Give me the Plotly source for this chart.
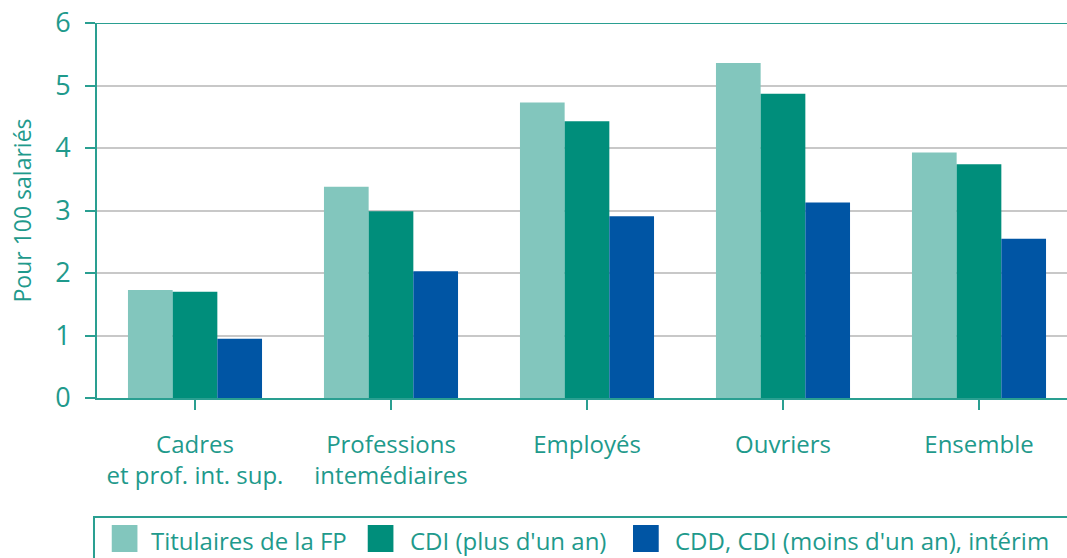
import plotly.graph_objects as go

categories = ["Cadres<br>et prof. int. sup.", "Professions<br>intemédiaires", "Employés", "Ouvriers", "Ensemble"]
series_names = ["Titulaires de la FP", "CDI (plus d'un an)", "CDD, CDI (moins d'un an), intérim"]
titulaires = [1.73, 3.38, 4.73, 5.36, 3.93]
cdi_long = [1.70, 2.99, 4.43, 4.87, 3.74]
cdd_court = [0.95, 2.03, 2.91, 3.13, 2.55]
series_values = [titulaires, cdi_long, cdd_court]
y_ticks = [0, 1, 2, 3, 4, 5, 6]

colors = ["#82C6BD", "#008E7B", "#0055A4"]
teal = "#2A9F91"
text_teal = "#1F9A8C"
font_family = "Open Sans, Noto Sans, DejaVu Sans, sans-serif"

fig = go.Figure()
for name, vals, col in zip(series_names, series_values, colors):
    fig.add_trace(go.Bar(x=list(range(len(categories))), y=vals, name=name,
                         marker=dict(color=col, line=dict(width=0)),
                         showlegend=False))

# body margin removed in the page (post_script), plot area at x 97..1067, y 23..398
fig.update_layout(
    width=1067, height=558,
    margin=dict(l=97, r=0, t=23, b=160, autoexpand=False),
    barmode="group", bargap=0.316, bargroupgap=0,
    plot_bgcolor="white", paper_bgcolor="white",
    font=dict(family=font_family, color=text_teal, size=24),
)

fig.update_xaxes(
    range=[-0.5, 4.449], automargin=False,
    tickmode="array", tickvals=list(range(len(categories))), ticktext=categories,
    showline=True, linecolor=teal, linewidth=2,
    ticks="outside", ticklen=10, tickcolor=teal, tickwidth=2,
    tickson="boundaries", ticklabelstandoff=14,
    showgrid=False, zeroline=False,
    tickfont=dict(size=24, color=text_teal, family=font_family),
)

fig.update_yaxes(
    range=[0, 6], tickvals=y_ticks, automargin=False,
    showline=True, linecolor=teal, linewidth=2,
    ticks="outside", ticklen=10, tickcolor=teal, tickwidth=2,
    showgrid=True, gridcolor="#C8C8C8", gridwidth=1.5, zeroline=False,
    tickfont=dict(size=27, color=text_teal, family=font_family),
    ticklabelstandoff=9, ticklabeloverflow="allow",
    title=dict(text="Pour 100 salariés", standoff=17,
               font=dict(size=23, color=text_teal, family=font_family)),
)

# top teal line at y = 6
fig.add_shape(type="line", xref="paper", yref="y", x0=0, x1=1, y0=6, y1=6,
              line=dict(color=teal, width=2))

# legend box drawn manually
fig.add_shape(type="rect", xref="paper", yref="paper", x0=-0.0031, x1=1.05,
              y0=-0.3173, y1=-0.56, line=dict(color=teal, width=2), fillcolor="rgba(0,0,0,0)")
sq_x0 = [0.0152, 0.2791, 0.5526]
text_x = [0.0536, 0.3206, 0.5938]
for name, col, x0, tx in zip(series_names, colors, sq_x0, text_x):
    fig.add_shape(type="rect", xref="paper", yref="paper", x0=x0, x1=x0 + 0.0265,
                  y0=-0.3387, y1=-0.4107, line=dict(width=0), fillcolor=col)
    fig.add_annotation(xref="paper", yref="paper", x=tx, y=-0.3787, text=name,
                       showarrow=False, xanchor="left", yanchor="middle",
                       font=dict(size=24, color=text_teal, family=font_family))

fig.write_html("out.html", config={"displayModeBar": False},
               post_script="document.body.style.margin='0px';")
